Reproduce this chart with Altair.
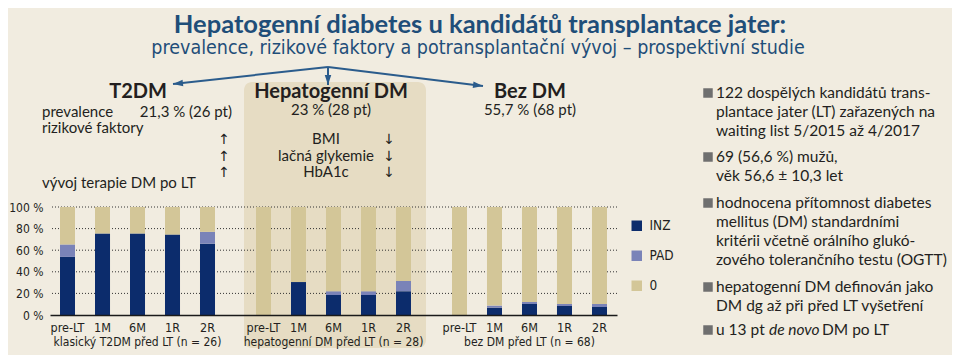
import altair as alt
import pandas as pd

# ---------------- data ----------------
groups = ["klasický T2DM před LT (n = 26)",
          "hepatogenní DM před LT (n = 28)",
          "bez DM před LT (n = 68)"]
times = ["pre-LT", "1M", "6M", "1R", "2R"]
categories = ["INZ", "PAD", "0"]

inz_t2dm = [53.8, 75.5, 75.5, 74.5, 66.0]
pad_t2dm = [11.5, 0.0, 0.0, 0.0, 11.0]
inz_hep = [0.0, 30.5, 18.5, 18.5, 22.0]
pad_hep = [0.0, 0.0, 3.5, 3.5, 9.5]
inz_bez = [0.0, 6.8, 10.2, 8.4, 7.4]
pad_bez = [0.0, 1.9, 1.9, 1.8, 2.8]

grid_values = [20, 40, 60, 80, 100]

title_lines = ["Hepatogenní diabetes u kandidátů transplantace jater:",
               "prevalence, rizikové faktory a potransplantační vývoj – prospektivní studie"]
group_heads = ["T2DM", "Hepatogenní DM", "Bez DM"]
prevalences = ["21,3 % (26 pt)", "23 % (28 pt)", "55,7 % (68 pt)"]
left_labels = ["prevalence", "rizikové faktory", "vývoj terapie DM po LT"]
risk_factors = ["BMI", "lačná glykemie", "HbA1c"]
bullets = [
    ["122 dospělých kandidátů trans-", "plantace jater (LT) zařazených na", "waiting list 5/2015 až 4/2017"],
    ["69 (56,6 %) mužů,", "věk 56,6 ± 10,3 let"],
    ["hodnocena přítomnost diabetes", "mellitus (DM) standardními", "kritérii  včetně orálního glukó-", "zového tolerančního testu (OGTT)"],
    ["hepatogenní DM definován jako", "DM dg až při před LT vyšetření"],
]
last_bullet = ["u 13 pt", "de novo", "DM po LT"]

# ---------------- styles ----------------
SANS = "Lato, 'Open Sans', sans-serif"
COND = "'DejaVu Sans Condensed', 'Liberation Sans Narrow', sans-serif"
TXT = "#231F20"
BLUE = "#1F4E79"
ARROW = "#2B5C8C"
COLORS = ["#0C2C6C", "#7A83B8", "#D3C698"]

rows = []
for g, inz, pad in zip(groups, [inz_t2dm, inz_hep, inz_bez], [pad_t2dm, pad_hep, pad_bez]):
    for t, a, b in zip(times, inz, pad):
        rows.append({"group": g, "time": t, "cat": "INZ", "val": a, "ord": 0})
        rows.append({"group": g, "time": t, "cat": "PAD", "val": b, "ord": 1})
        rows.append({"group": g, "time": t, "cat": "0", "val": round(100 - a - b, 2), "ord": 2})
df = pd.DataFrame(rows)
ticks_df = pd.DataFrame([{"group": g, "time": t} for g in groups for t in times])
grid_df = pd.DataFrame({"val": grid_values})
one = pd.DataFrame({"a": [0]})

x_axis = alt.Axis(title=None, ticks=False, domain=True, domainColor="#1a1a1a", domainWidth=1.3,
                  labelPadding=21, labelFontSize=12, labelFont=COND, labelColor=TXT,
                  labelBaseline="top", labelAngle=0, labelLimit=0, labelOverlap=False,
                  zindex=1)
y_axis = alt.Axis(title=None, values=[0, 20, 40, 60, 80, 100], grid=False, domain=False, ticks=False,
                  labelExpr="datum.value + ' %'", labelFontSize=12, labelFont=COND,
                  labelColor=TXT, labelPadding=7)
x_enc = alt.X("group:N", sort=groups, axis=x_axis,
              scale=alt.Scale(paddingInner=0.107, paddingOuter=0))
xo_enc = alt.XOffset("time:N", sort=times,
                     scale=alt.Scale(paddingInner=0.571, paddingOuter=0.286))
y_enc = alt.Y("val:Q", axis=y_axis, scale=alt.Scale(domain=[0, 100]), stack="zero")


def txt(s, x, y, size=15.5, weight="normal", align="left", color=TXT, font=SANS, style="normal"):
    return alt.Chart(one).mark_text(
        text=s, align=align, baseline="alphabetic", fontSize=size, fontWeight=weight,
        color=color, font=font, fontStyle=style
    ).encode(x=alt.value(x), y=alt.value(y))


# background box for the middle group
box = alt.Chart(one).mark_rect(color="#E6DCC3", cornerRadius=8).encode(
    x=alt.value(194), x2=alt.value(376), y=alt.value(-125), y2=alt.value(141))

grid = alt.Chart(grid_df).mark_rule(strokeDash=[1, 2], color="#333333", strokeWidth=1).encode(
    y=alt.Y("val:Q", axis=y_axis, scale=alt.Scale(domain=[0, 100])))

bars = alt.Chart(df).mark_bar().encode(
    x=x_enc, xOffset=xo_enc, y=y_enc,
    color=alt.Color("cat:N", sort=categories,
                    scale=alt.Scale(domain=categories, range=COLORS),
                    legend=alt.Legend(title=None, orient="none", legendX=580, legendY=12,
                                      symbolType="square", symbolSize=110, symbolStrokeWidth=0,
                                      labelFontSize=13.5, labelFont=COND, labelColor=TXT,
                                      rowPadding=15, labelOffset=6)),
    order=alt.Order("ord:Q"),
)

tick_labels = alt.Chart(ticks_df).mark_text(
    baseline="alphabetic", fontSize=12.5, font=COND, color=TXT
).encode(x=x_enc, xOffset=xo_enc, text="time:N", y=alt.value(125))

layers = [box, grid, bars, tick_labels]

# title
layers.append(txt(title_lines[0], 430, -174, size=25.5, weight="bold", align="center", color=BLUE))
layers.append(txt(title_lines[1], 428, -153, size=19.5, align="center", color=BLUE, font=COND))

# arrows
for x2, y2 in [(123, -123), (278, -122), (433, -121)]:
    layers.append(alt.Chart(one).mark_rule(color=ARROW, strokeWidth=2).encode(
        x=alt.value(278), y=alt.value(-140), x2=alt.value(x2), y2=alt.value(y2)))
head = "M0,0L0.65,2L-0.65,2Z"
for x2, y2, ang in [(123, -123, 263.7), (278, -122, 180), (433, -121, 97)]:
    layers.append(alt.Chart(one).mark_point(shape=head, filled=True, size=100, color=ARROW,
                                            opacity=1, angle=ang, strokeWidth=0).encode(
        x=alt.value(x2), y=alt.value(y2)))

# group headings
layers.append(txt(group_heads[0], 88, -109, size=20, weight="bold", align="center"))
layers.append(txt(group_heads[1], 281, -109, size=20, weight="bold", align="center"))
layers.append(txt(group_heads[2], 480, -109, size=20, weight="bold", align="center"))
layers.append(txt(left_labels[0], -8, -90, size=15))
layers.append(txt(prevalences[0], 182, -90, size=15, align="right"))
layers.append(txt(prevalences[1], 281, -92, size=15, align="center"))
layers.append(txt(prevalences[2], 480, -92, size=15, align="center"))
layers.append(txt(left_labels[1], -8, -74, size=15))
layers.append(txt(left_labels[2], -8, -19, size=15))
for i, yy in enumerate([-63, -46, -30]):
    layers.append(txt(risk_factors[i], 276, yy, size=15, align="center"))
    layers.append(txt("↑", 174, yy, size=14, align="center", font="'DejaVu Sans'"))
    layers.append(txt("↓", 339, yy, size=14, align="center", font="'DejaVu Sans'"))

# right panel
line_y = [[-109, -90, -71], [-45, -26], [1, 20, 39, 58], [85, 104]]
for lines, ys in zip(bullets, line_y):
    layers.append(alt.Chart(one).mark_square(size=90, color="#6F6F6F", opacity=1).encode(
        x=alt.value(658), y=alt.value(ys[0] - 5)))
    for s, yy in zip(lines, ys):
        layers.append(txt(s, 666, yy))
layers.append(alt.Chart(one).mark_square(size=90, color="#6F6F6F", opacity=1).encode(
    x=alt.value(658), y=alt.value(123)))
layers.append(txt(last_bullet[0], 666, 128))
layers.append(txt(last_bullet[1], 719, 128, style="italic"))
layers.append(txt(last_bullet[2], 772, 128))

chart = alt.layer(*layers).properties(
    width=567, height=108,
    autosize=alt.AutoSizeParams(type="none"),
    padding={"left": 42, "top": 199, "right": 335, "bottom": 40},
    background="#F1ECE0",
).configure_view(stroke=None)

chart.save("out.html", embed_options={"renderer": "svg", "actions": False})
